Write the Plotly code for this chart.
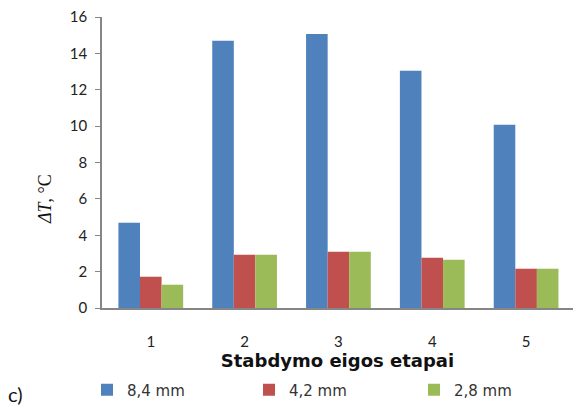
import plotly.graph_objects as go

categories = ["1", "2", "3", "4", "5"]
s84 = [4.69, 14.69, 15.07, 13.04, 10.07]
s42 = [1.72, 2.93, 3.09, 2.76, 2.16]
s28 = [1.28, 2.93, 3.09, 2.65, 2.16]
names = ["8,4 mm", "4,2 mm", "2,8 mm"]
colors = ["#4F81BD", "#C0504D", "#9BBB59"]
yticks = [0, 2, 4, 6, 8, 10, 12, 14, 16]

W, H = 573, 405
legend_ids = ["legend", "legend2", "legend3"]
legend_px = [87, 249, 414]

fig = go.Figure()
for name, vals, col, lid in zip(names, [s84, s42, s28], colors, legend_ids):
    fig.add_trace(go.Bar(x=categories, y=vals, name=name, marker_color=col,
                         marker_line_width=0, legend=lid))

legend_common = dict(orientation="h", yanchor="middle", xanchor="left",
                     xref="container", yref="container", y=1 - 390 / H,
                     font=dict(family="DejaVu Sans, sans-serif", size=15, color="#333"),
                     itemwidth=30, bgcolor="rgba(0,0,0,0)")

layout_legends = {}
for lid, px in zip(legend_ids, legend_px):
    layout_legends[lid] = dict(legend_common, x=px / W)

fig.update_layout(
    width=W, height=H,
    margin=dict(l=102, r=0, t=17, b=97),
    paper_bgcolor="white", plot_bgcolor="white",
    barmode="group", bargap=0.31, bargroupgap=0,
    font=dict(family="Lato, Open Sans, sans-serif", size=13, color="#222"),
    showlegend=True,
    xaxis=dict(range=[-0.52, 4.5], showline=True, linecolor="#868686", linewidth=1.5,
               ticks="", showgrid=False, tickfont=dict(size=15), ticklabelstandoff=19,
               title=dict(text="<b>Stabdymo eigos etapai</b>", standoff=0,
                          font=dict(family="DejaVu Sans, sans-serif", size=18, color="#111"))),
    yaxis=dict(range=[0, 16], tickvals=yticks, showline=True, linecolor="#868686",
               linewidth=1.5, ticks="outside", ticklen=5, tickcolor="#868686",
               showgrid=False, zeroline=False, tickfont=dict(size=15),
               ticklabelstandoff=5),
    **layout_legends,
)
fig.add_annotation(text="<i>ΔT</i>, °C", textangle=-90, xref="paper", yref="paper",
                   x=(45 - 102) / 471, y=(308 - 199) / 291, xanchor="center",
                   yanchor="middle", showarrow=False,
                   font=dict(family="Liberation Serif, serif", size=18, color="#111"))
fig.add_annotation(text="c)", xref="paper", yref="paper",
                   x=(6 - 102) / 471, y=(308 - 394) / 291, xanchor="left",
                   yanchor="middle", showarrow=False,
                   font=dict(family="Lato, sans-serif", size=20, color="#111"))
fig.write_html("out.html")
